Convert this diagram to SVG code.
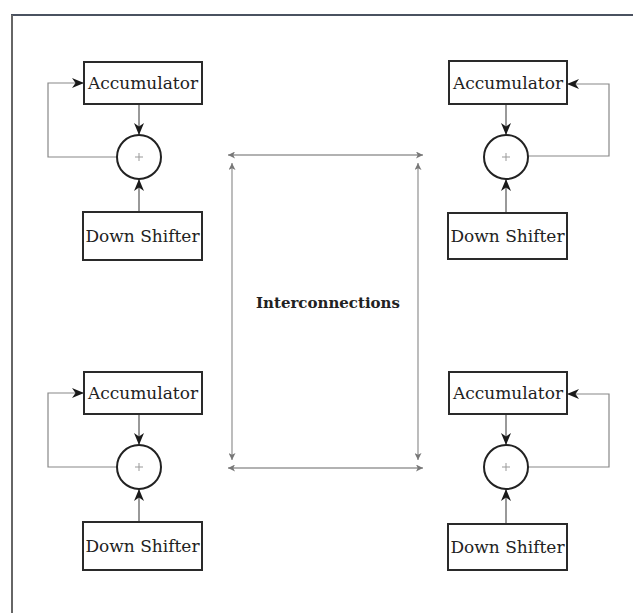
<svg xmlns="http://www.w3.org/2000/svg" width="633" height="613" viewBox="0 0 633 613">
<style>
.box{fill:#fff;stroke:#2a2a2a;stroke-width:2}
.sum{fill:#fff;stroke:#222;stroke-width:2}
.plus{stroke:#999;stroke-width:1}
.lbl{font-family:"DejaVu Serif","Liberation Serif",serif;font-size:17px;fill:#222;text-anchor:middle}
.title{font-family:"DejaVu Serif","Liberation Serif",serif;font-size:15px;font-weight:bold;fill:#222;text-anchor:middle}
.w{fill:none;stroke:#555;stroke-width:1.2}
.fb{fill:none;stroke:#888;stroke-width:1.2}
.ic{fill:none;stroke:#999;stroke-width:1.3}
</style>
<defs>
<marker id="ah" viewBox="0 0 12 10" refX="12" refY="5" markerWidth="12" markerHeight="10" markerUnits="userSpaceOnUse" orient="auto">
<path d="M0,0 L12,5 L0,10 L3.5,5 z" fill="#1a1a1a"/>
</marker>
<marker id="sh" viewBox="0 0 8 8" refX="8" refY="4" markerWidth="7" markerHeight="7" markerUnits="userSpaceOnUse" orient="auto-start-reverse">
<path d="M0,0 L8,4 L0,8 L2,4 z" fill="#777"/>
</marker>
</defs>
<rect x="0" y="0" width="633" height="613" fill="#fff"/>
<g id="frame">
<line x1="11" y1="15" x2="633" y2="15" stroke="#4a5260" stroke-width="2"/>
<line x1="12" y1="15" x2="12" y2="613" stroke="#666" stroke-width="2"/>
</g>
<g id="connectors">
<path class="w" d="M139,104 V135" marker-end="url(#ah)"/>
<path class="w" d="M139,212 V179" marker-end="url(#ah)"/>
<path class="fb" d="M117,157 H48 V83 H84" marker-end="url(#ah)"/>
<path class="w" d="M506,104 V135" marker-end="url(#ah)"/>
<path class="w" d="M506,213 V179" marker-end="url(#ah)"/>
<path class="fb" d="M528,156 H609 V84 H567" marker-end="url(#ah)"/>
<path class="w" d="M139,414 V445" marker-end="url(#ah)"/>
<path class="w" d="M139,522 V489" marker-end="url(#ah)"/>
<path class="fb" d="M117,467 H48 V393 H84" marker-end="url(#ah)"/>
<path class="w" d="M506,414 V445" marker-end="url(#ah)"/>
<path class="w" d="M506,524 V489" marker-end="url(#ah)"/>
<path class="fb" d="M528,467 H609 V394 H567" marker-end="url(#ah)"/>
<path class="ic" d="M228,155 H423" marker-start="url(#sh)" marker-end="url(#sh)"/>
<path class="ic" d="M228,468 H423" marker-start="url(#sh)" marker-end="url(#sh)"/>
<path class="ic" d="M232,163 V460" marker-start="url(#sh)" marker-end="url(#sh)"/>
<path class="ic" d="M418,163 V460" marker-start="url(#sh)" marker-end="url(#sh)"/>
</g>
<g id="acc-tl"><rect class="box" x="84" y="62" width="118" height="42"/><text class="lbl" x="143" y="89">Accumulator</text></g>
<g id="sum-tl"><circle class="sum" cx="139" cy="157" r="22"/><path class="plus" d="M135,157 H143 M139,153 V161"/></g>
<g id="ds-tl"><rect class="box" x="83" y="212" width="119" height="48"/><text class="lbl" x="142.5" y="242">Down Shifter</text></g>
<g id="acc-tr"><rect class="box" x="449" y="61" width="118" height="43"/><text class="lbl" x="508" y="89">Accumulator</text></g>
<g id="sum-tr"><circle class="sum" cx="506" cy="157" r="22"/><path class="plus" d="M502,157 H510 M506,153 V161"/></g>
<g id="ds-tr"><rect class="box" x="448" y="213" width="119" height="46"/><text class="lbl" x="507.5" y="242">Down Shifter</text></g>
<g id="acc-bl"><rect class="box" x="84" y="372" width="118" height="42"/><text class="lbl" x="143" y="399">Accumulator</text></g>
<g id="sum-bl"><circle class="sum" cx="139" cy="467" r="22"/><path class="plus" d="M135,467 H143 M139,463 V471"/></g>
<g id="ds-bl"><rect class="box" x="83" y="522" width="119" height="48"/><text class="lbl" x="142.5" y="552">Down Shifter</text></g>
<g id="acc-br"><rect class="box" x="449" y="372" width="118" height="42"/><text class="lbl" x="508" y="399">Accumulator</text></g>
<g id="sum-br"><circle class="sum" cx="506" cy="467" r="22"/><path class="plus" d="M502,467 H510 M506,463 V471"/></g>
<g id="ds-br"><rect class="box" x="448" y="524" width="119" height="46"/><text class="lbl" x="507.5" y="553">Down Shifter</text></g>
<g id="interconnections"><text class="title" x="328" y="308">Interconnections</text></g>
</svg>
